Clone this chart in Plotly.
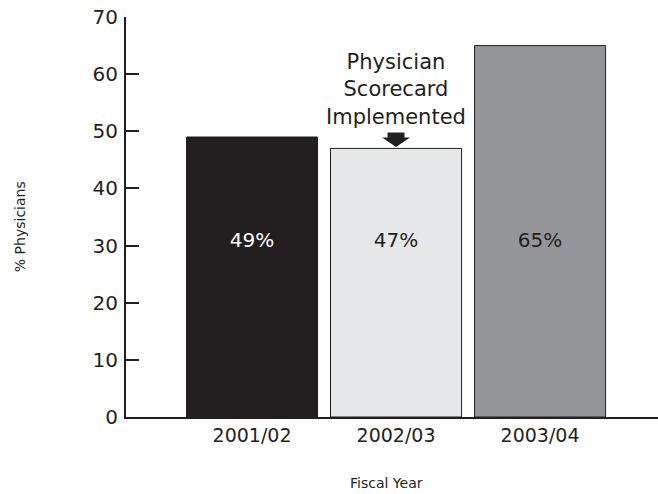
import plotly.graph_objects as go

categories = ["2001/02", "2002/03", "2003/04"]
values = [49, 47, 65]
value_labels = ["49%", "47%", "65%"]
y_ticks = [0, 10, 20, 30, 40, 50, 60, 70]
note_text = "Physician<br>Scorecard<br>Implemented"

bar_colors = ["#231f20", "#e6e7e8", "#939598"]
label_colors = ["#ffffff", "#231f20", "#231f20"]
INK = "#231f20"
FONT = "DejaVu Sans"
LABEL_Y = 30.6

fig = go.Figure()
fig.add_trace(go.Bar(
    x=categories, y=values,
    marker=dict(color=bar_colors, line=dict(color=INK, width=1)),
    width=0.91, hoverinfo="skip",
))
fig.add_trace(go.Scatter(
    x=categories, y=[LABEL_Y] * len(categories), mode="text",
    text=value_labels,
    textfont=dict(family=FONT, size=20, color=label_colors),
    hoverinfo="skip",
))

# annotation text above the middle bar
fig.add_annotation(
    x=categories[1], y=values[1], xref="x", yref="y",
    text=note_text, showarrow=False, yanchor="middle",
    yshift=59, borderpad=0,
    font=dict(family=FONT, size=21, color=INK),
)
# arrow drawn in pixels above the bar top
fig.add_shape(
    type="path", xref="x", yref="y",
    xsizemode="pixel", ysizemode="pixel",
    xanchor=categories[1], yanchor=values[1],
    path="M -8.5,16 L 8.5,16 L 8.5,11 L 14,11 L 0,1.5 L -14,11 L -8.5,11 Z",
    fillcolor=INK, line=dict(width=0),
)

fig.add_annotation(
    x=-0.199, y=0.475, xref="paper", yref="paper", text="% Physicians",
    textangle=-90, showarrow=False, xanchor="center", yanchor="middle",
    font=dict(family=FONT, size=14, color=INK),
)
fig.add_annotation(
    x=0.49, y=-0.165, xref="paper", yref="paper", text="Fiscal Year",
    showarrow=False, xanchor="center", yanchor="middle",
    font=dict(family=FONT, size=14, color=INK),
)

fig.update_layout(
    width=658, height=494,
    margin=dict(l=126, r=0, t=17, b=77, autoexpand=False),
    paper_bgcolor="white", plot_bgcolor="white",
    showlegend=False,
    bargap=0,
)
fig.update_xaxes(
    range=[-0.875, 2.819], showline=True, linecolor=INK, linewidth=2,
    ticks="", showgrid=False, zeroline=False, automargin=False,
    tickfont=dict(family=FONT, size=19, color=INK),
)
fig.update_yaxes(
    range=[0, 70], tickvals=y_ticks, showline=True, linecolor=INK, linewidth=2,
    ticks="inside", ticklen=13, tickwidth=2, tickcolor=INK,
    showgrid=False, zeroline=False, automargin=False,
    tickfont=dict(family=FONT, size=20, color=INK),
    ticklabelstandoff=2, ticklabeloverflow="allow",
)

fig.write_html(
    "out.html",
    config={"displayModeBar": False, "staticPlot": True},
    post_script="document.body.style.margin='0';",
)
